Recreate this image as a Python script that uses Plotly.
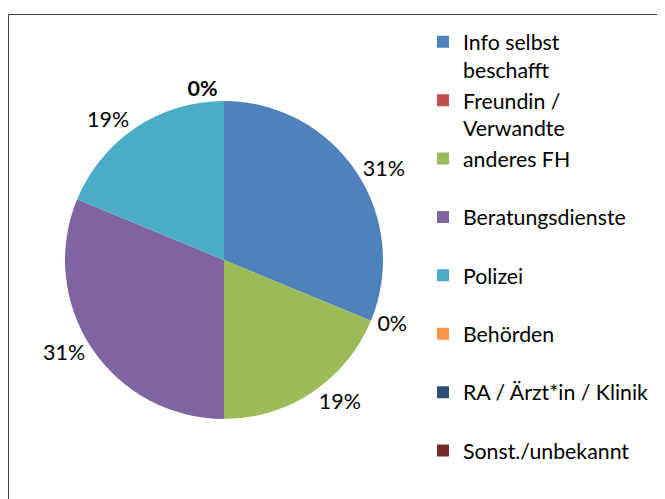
import plotly.graph_objects as go

# Kategorien und Anzahl (Anteile 31 % / 19 %)
kategorien = [
    "Info selbst<br>beschafft",
    "Freundin /<br>Verwandte",
    "anderes FH<br> ",
    "Beratungsdienste<br> ",
    "Polizei<br> ",
    "Behörden<br> ",
    "RA / Ärzt*in / Klinik<br> ",
    "Sonst./unbekannt",
]
anzahl = [5, 0, 3, 5, 3, 0, 0, 0]
farben = ["#4F81BD", "#C0504D", "#9BBB59", "#8064A2",
          "#4BACC6", "#F79646", "#2C4D75", "#772C2A"]
# die drei 0%-Beschriftungen oben liegen übereinander -> nur eine, fett
beschriftung = ["%{percent:.0%}"] * 5 + ["<b>%{percent:.0%}</b>", "", ""]

# Seite hat 8px Versatz durch den Body-Rand
W, H = 657, 491
cx, cy, r = 216, 252, 159

fig = go.Figure()

fig.add_trace(go.Pie(
    labels=kategorien,
    values=anzahl,
    sort=False,
    direction="clockwise",
    rotation=0,
    marker=dict(colors=farben, line=dict(width=0)),
    texttemplate=beschriftung,
    textposition="outside",
    textfont=dict(size=21.5, color="black", family="Lato"),
    domain=dict(x=[(cx - r) / W, (cx + r) / W],
                y=[(H - cy - r) / H, (H - cy + r) / H]),
    hoverinfo="label+value+percent",
))

fig.update_layout(
    width=W, height=H,
    margin=dict(l=0, r=0, t=0, b=0),
    paper_bgcolor="white",
    font=dict(family="Lato", size=21.5, color="black"),
    showlegend=True,
    legend=dict(
        x=415 / W, y=1 - 13.5 / H,
        xanchor="left", yanchor="top",
        valign="top",
        font=dict(size=21.3, family="Lato", color="black"),
        bgcolor="rgba(0,0,0,0)",
    ),
    # Rahmen (nur links und oben sichtbar)
    shapes=[dict(type="rect", xref="paper", yref="paper",
                 x0=0.5 / W, x1=1.2, y0=-0.2, y1=1 - 6.5 / H,
                 line=dict(color="#404040", width=1))],
)

fig.write_html("out.html")
